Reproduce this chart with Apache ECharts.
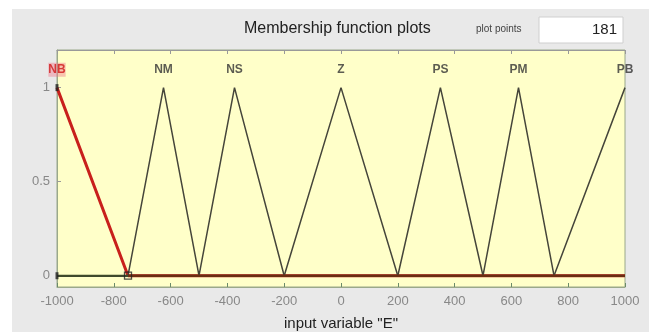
<!DOCTYPE html>
<html><head><meta charset="utf-8">
<script src="https://cdn.jsdelivr.net/npm/echarts@6/dist/echarts.min.js"></script>
<style>html,body{margin:0;padding:0;background:#fff}#c{width:659px;height:335px}</style>
</head><body><div id="c"></div>
<script>
// Membership functions of input variable "E" (triangles: [foot-left, peak, foot-right])
const mfNames = ['NB', 'NM', 'NS', 'Z', 'PS', 'PM', 'PB'];
const mfLeft  = [-1000, -750, -500, -200, 200, 500, 750];
const mfPeak  = [-1000, -625, -375, 0, 350, 625, 1000];
const mfRight = [-750, -500, -200, 200, 500, 750, 1000];
const xTicks = [-1000, -800, -600, -400, -200, 0, 200, 400, 600, 800, 1000];
const yTicks = [0, 0.5, 1];
const plotPoints = 181;
const selectedMF = 'NB';

const xMin = -1000, xMax = 1000;
function mfPoints(i) {
  const pts = [];
  if (mfLeft[i] > xMin) pts.push([xMin, 0]);
  if (mfLeft[i] < mfPeak[i]) pts.push([mfLeft[i], 0]);
  pts.push([mfPeak[i], 1]);
  if (mfRight[i] > mfPeak[i]) pts.push([mfRight[i], 0]);
  if (mfRight[i] < xMax) pts.push([xMax, 0]);
  return pts;
}

const series = [];
const selIdx = mfNames.indexOf(selectedMF);
series.push({
  type: 'line', data: mfPoints(selIdx), symbol: 'none', z: 2,
  lineStyle: { color: '#c8201c', width: 3 }, animation: false
});
mfNames.forEach((n, i) => {
  if (i === selIdx) return;
  series.push({
    type: 'line', data: mfPoints(i), symbol: 'none', z: 3,
    lineStyle: { color: '#45453a', width: 1.5 }, animation: false
  });
});
series.push({
  type: 'line', data: [[mfRight[selIdx], 0], [xMax, 0]], symbol: 'none', z: 4,
  lineStyle: { color: '#6a2e12', width: 2.5 }, animation: false
});
series.push({
  type: 'line', data: [[xMin, 0], [mfRight[selIdx], 0]], symbol: 'none', z: 4,
  lineStyle: { color: '#3e4a2a', width: 2 }, animation: false
});
series.push({
  type: 'scatter', symbolSize: 0, z: 5, animation: false,
  data: mfNames.map((n, i) => ({
    value: [mfPeak[i], 1.095],
    label: {
      show: true, formatter: n, position: 'inside',
      color: n === selectedMF ? '#d01818' : '#333',
      backgroundColor: n === selectedMF ? 'rgba(240,120,140,0.55)' : 'transparent',
      fontSize: 12, fontWeight: 'bold', fontFamily: 'Liberation Sans', padding: [1, 0]
    }
  }))
});
series.push({
  type: 'scatter', symbol: 'rect', symbolSize: 7, z: 6, animation: false,
  itemStyle: { color: 'rgba(0,0,0,0)', borderColor: '#222', borderWidth: 1.3 },
  data: [[mfRight[selIdx], 0]]
});
series.push({
  type: 'scatter', symbol: 'rect', symbolSize: [3, 7], z: 6, animation: false,
  itemStyle: { color: '#222' },
  data: [[xMin, 1], [xMin, 0]]
});

const chart = echarts.init(document.getElementById('c'), null, { renderer: 'canvas' });
chart.setOption({
  backgroundColor: '#ffffff',
  animation: false,
  graphic: [
    { type: 'rect', shape: { x: 12, y: 9, width: 637, height: 323 }, style: { fill: '#e9e9e9' }, z: -10 },
    { type: 'text', left: 244, top: 21, style: { text: 'Membership function plots', font: '16px "Liberation Sans"', fill: '#222' } },
    { type: 'text', left: 476, top: 24, style: { text: 'plot points', font: '10px "Liberation Sans"', fill: '#444' } },
    { type: 'rect', shape: { x: 539, y: 17, width: 84, height: 26 }, style: { fill: '#ffffff', stroke: '#cfcfcf', lineWidth: 1 } },
    { type: 'text', right: 42, top: 22, style: { text: String(plotPoints), font: '15px "Liberation Sans"', fill: '#222', align: 'right' } }
  ],
  grid: {
    left: 57, right: 34, top: 50, bottom: 48, show: true, outerBoundsMode: 'none', containLabel: false,
    backgroundColor: '#ffffc9', borderColor: '#9aa88a', borderWidth: 1
  },
  xAxis: [{
    type: 'value', min: xMin, max: xMax, interval: 200, position: 'bottom',
    name: 'input variable "E"', nameLocation: 'middle', nameGap: 29,
    nameTextStyle: { color: '#222', fontSize: 15, fontFamily: 'Liberation Sans' },
    axisLine: { show: true, onZero: false, lineStyle: { color: '#9aa88a' } },
    axisTick: { show: true, inside: true, length: 4, lineStyle: { color: '#6a8a6a' } },
    axisLabel: { color: '#888', fontSize: 13, fontFamily: 'Liberation Sans', margin: 8,
      customValues: xTicks, formatter: v => String(v) },
    splitLine: { show: false }
  }, {
    type: 'value', min: xMin, max: xMax, interval: 200, position: 'top',
    axisLine: { show: true, onZero: false, lineStyle: { color: '#999' } },
    axisTick: { show: true, inside: true, length: 4, lineStyle: { color: '#999' } },
    axisLabel: { show: false }, splitLine: { show: false }
  }],
  yAxis: {
    type: 'value', min: -0.06, max: 1.2,
    axisLine: { show: true, onZero: false, lineStyle: { color: '#9aa88a' } },
    axisTick: { show: true, inside: true, length: 4, customValues: yTicks, lineStyle: { color: '#999' } },
    axisLabel: { color: '#888', fontSize: 13, fontFamily: 'Liberation Sans', margin: 7,
      customValues: yTicks, formatter: v => String(v) },
    splitLine: { show: false }
  },
  series: series
});
</script>
</body></html>
